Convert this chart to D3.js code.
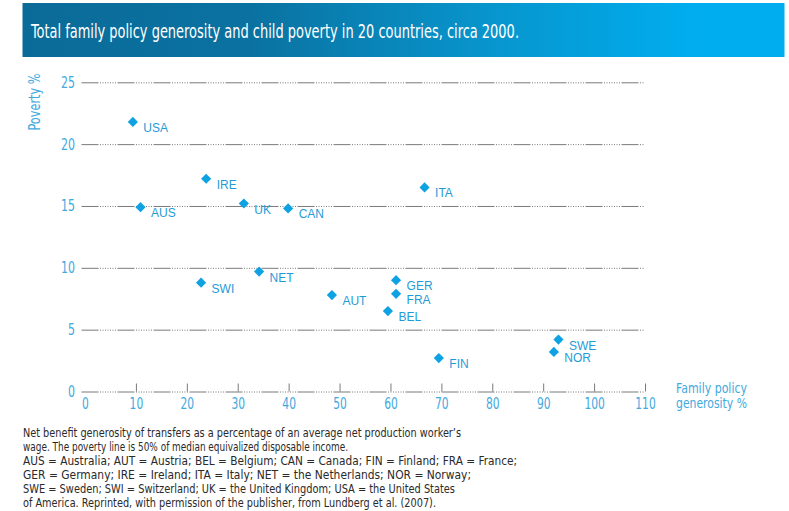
<!DOCTYPE html>
<html><head><meta charset="utf-8">
<script src="https://cdn.jsdelivr.net/npm/d3@7"></script>
<style>
html,body{margin:0;padding:0;background:#fff;}
svg{display:block;}
</style></head>
<body>
<svg id="chart" width="789" height="511"></svg>
<script>
const title = "Total family policy generosity and child poverty in 20 countries, circa 2000.";
const countries = ["USA","IRE","AUS","UK","CAN","NET","SWI","AUT","ITA","GER","FRA","BEL","SWE","NOR","FIN"];
const generosity = [9.4,23.8,10.9,31.2,39.9,34.2,22.8,48.5,66.7,61.1,61.1,59.5,93.0,92.1,69.5];
const poverty = [21.8,17.2,14.9,15.2,14.8,9.7,8.8,7.8,16.5,9.0,7.9,6.5,4.2,3.2,2.7];
const xTicks = [0,10,20,30,40,50,60,70,80,90,100,110];
const yTicks = [0,5,10,15,20,25];
const yTitle = "Poverty %";
const xTitle = ["Family policy","generosity %"];
const notes = [
 "Net benefit generosity of transfers as a percentage of an average net production worker’s",
 "wage. The poverty line is 50% of median equivalized disposable income.",
 "AUS = Australia; AUT = Austria; BEL = Belgium; CAN = Canada; FIN = Finland; FRA = France;",
 "GER = Germany; IRE = Ireland; ITA = Italy; NET = the Netherlands; NOR = Norway;",
 "SWE = Sweden; SWI = Switzerland; UK = the United Kingdom; USA = the United States",
 "of America. Reprinted, with permission of the publisher, from Lundberg et al. (2007)."
];
const noteWidths = [438,325,494,448,432,413];

const svg = d3.select("#chart");
const narrow = "'Liberation Sans Narrow','DejaVu Sans Condensed','Arial Narrow',sans-serif";
const blueText = "#42a9de";
const dash = "17,1.5,1,1.5,1,1.5,1,1.5,1,1.5,1,1.5,1,1.5,1,1.5";

// title bar
const defs = svg.append("defs");
const grad = defs.append("linearGradient").attr("id","tg").attr("x1","0%").attr("x2","100%");
[[0,"#0b6b98"],[0.3,"#0a72a1"],[0.6,"#0894cb"],[0.88,"#00adee"],[1,"#00aeef"]].forEach(s=>
  grad.append("stop").attr("offset",s[0]).attr("stop-color",s[1]));
svg.append("rect").attr("x",22.5).attr("y",3).attr("width",762).attr("height",54).attr("fill","url(#tg)");
svg.append("text").attr("x",31).attr("y",37.5).attr("fill","#fff")
  .style("font-family",narrow).style("font-size","19.5px")
  .attr("textLength",488).attr("lengthAdjust","spacingAndGlyphs").text(title);

const x = d3.scaleLinear().domain([0,110]).range([85,645]);
const y = d3.scaleLinear().domain([0,25]).range([391.5,82.3]);

// y axis with gridlines
const gy = svg.append("g").attr("transform","translate(81.5,0)")
  .call(d3.axisLeft(y).tickValues(yTicks).tickSize(-(645-81.5)).tickPadding(6.5));
gy.select(".domain").remove();
gy.selectAll(".tick line").attr("stroke","#7a7a7a").attr("stroke-width",1).attr("stroke-dasharray",dash);
gy.selectAll(".tick text").attr("fill",blueText).style("font-family",narrow).style("font-size","15.5px")
  .attr("textLength",d=>String(d).length*7).attr("lengthAdjust","spacingAndGlyphs");

// x axis
const gx = svg.append("g").attr("transform","translate(0,391.5)")
  .call(d3.axisBottom(x).tickValues(xTicks).tickSize(-8).tickPadding(6));
gx.select(".domain").remove();
gx.selectAll(".tick line").attr("stroke","#7a7a7a").attr("stroke-width",1)
  .attr("display",d=>d===0?"none":null);
gx.selectAll(".tick text").attr("fill",blueText).style("font-family",narrow).style("font-size","15.5px")
  .attr("textLength",d=>String(d).length*6.8).attr("lengthAdjust","spacingAndGlyphs");

// axis titles
svg.append("text").attr("transform","translate(40,102) rotate(-90)").attr("text-anchor","middle")
  .attr("fill",blueText).style("font-family",narrow).style("font-size","15px")
  .attr("textLength",57).attr("lengthAdjust","spacingAndGlyphs").text(yTitle);
svg.append("g").selectAll("text").data(xTitle).join("text")
  .attr("x",676).attr("y",(d,i)=>393+i*15)
  .attr("fill",blueText).style("font-family",narrow).style("font-size","13.5px")
  .attr("textLength",71).attr("lengthAdjust","spacingAndGlyphs").text(d=>d);

// points
const pts = countries.map((c,i)=>({c, g:generosity[i], p:poverty[i]}));
const sym = d3.symbol().type(d3.symbolSquare).size(52);
const gp = svg.append("g");
gp.selectAll("path").data(pts).join("path")
  .attr("d",sym).attr("fill","#0fa2e2")
  .attr("transform",d=>`translate(${x(d.g)},${y(d.p)}) rotate(45)`);
gp.selectAll("text").data(pts).join("text")
  .attr("x",d=>x(d.g)+10.5).attr("y",d=>y(d.p)+10)
  .attr("fill","#1f9cd8").style("font-family","'Liberation Sans',Arial,sans-serif").style("font-size","12px")
  .text(d=>d.c);

// footnote
svg.append("g").selectAll("text").data(notes).join("text")
  .attr("x",23).attr("y",(d,i)=>437.3+i*14)
  .attr("fill","#2a2a2a").style("font-family",narrow).style("font-size","12.5px")
  .attr("textLength",(d,i)=>noteWidths[i]).attr("lengthAdjust","spacingAndGlyphs")
  .text(d=>d);
</script>
</body></html>
